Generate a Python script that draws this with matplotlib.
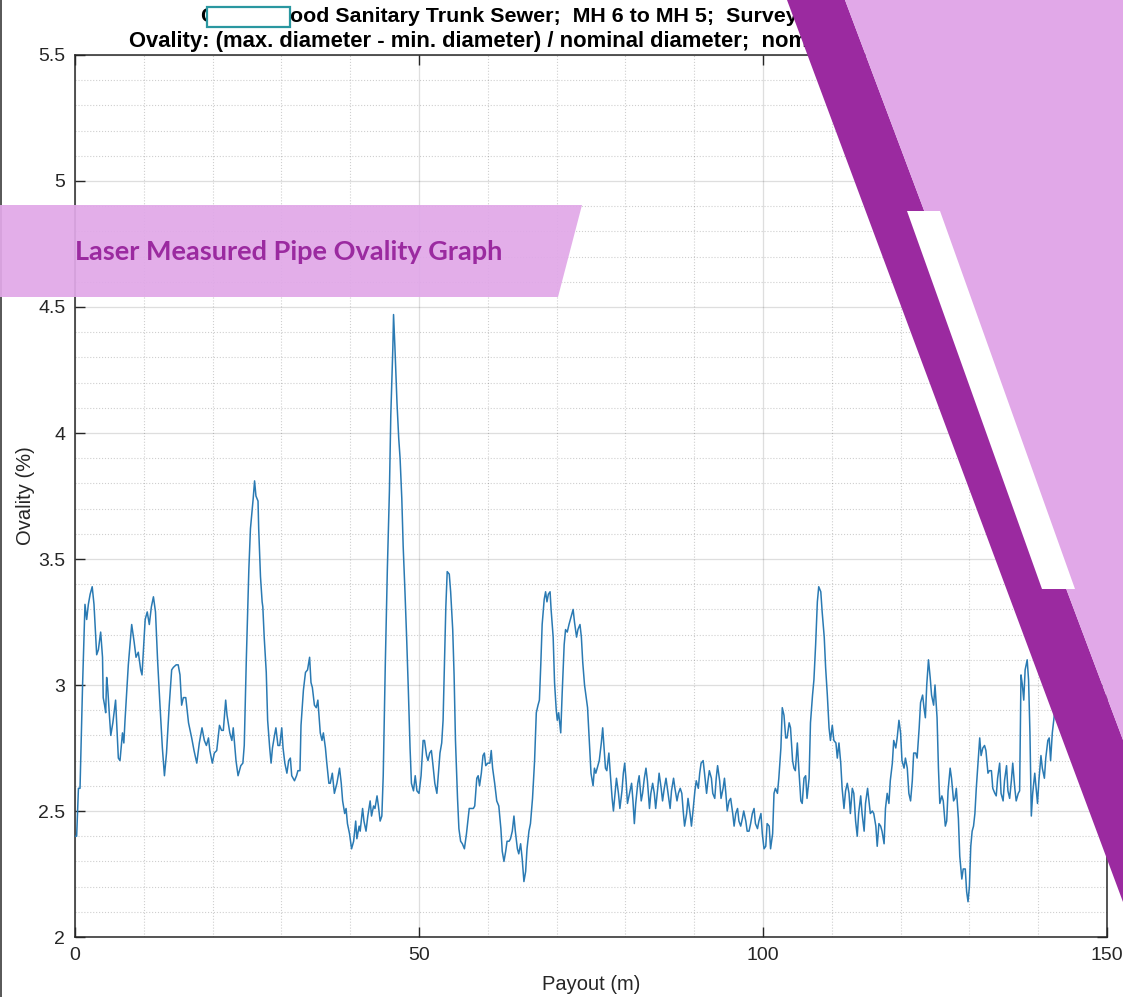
import matplotlib
matplotlib.use("Agg")
import matplotlib.pyplot as plt
from matplotlib.patches import Polygon, Rectangle
from matplotlib.lines import Line2D
from matplotlib.ticker import MultipleLocator

plt.rcParams['font.family'] = ['Liberation Sans', 'DejaVu Sans']

# Ovality survey readings: payout along the pipe (m) and ovality (%)
payout_m = [
    0.0, 0.24, 0.5, 0.73, 1.1, 1.45, 1.7, 1.94, 2.2, 2.5, 2.76, 3.15, 3.4, 3.73, 4.0, 4.1, 4.3, 4.46, 4.6, 4.75,
    5.0, 5.2, 5.5, 5.9, 6.06, 6.3, 6.54, 6.9, 7.1, 7.27, 7.75, 8.24, 8.6, 8.87, 9.2, 9.55, 9.74, 10.2, 10.5, 10.8,
    11.1, 11.4, 11.7, 12.0, 12.35, 12.7, 13.0, 13.3, 13.7, 14.05, 14.3, 14.7, 15.0, 15.26, 15.5, 15.75, 16.1, 16.5,
    16.96, 17.3, 17.7, 18.07, 18.46, 18.8, 19.1, 19.4, 19.6, 19.96, 20.25, 20.6, 21.0, 21.3, 21.56, 21.9, 22.1,
    22.5, 22.8, 23.0, 23.4, 23.7, 24.1, 24.4, 24.6, 24.9, 25.27, 25.5, 25.9, 26.1, 26.3, 26.6, 26.7, 26.96, 27.2,
    27.3, 27.5, 27.8, 28.0, 28.3, 28.5, 28.7, 29.0, 29.2, 29.5, 29.76, 30.05, 30.24, 30.5, 30.8, 31.06, 31.3, 31.5,
    31.9, 32.2, 32.4, 32.7, 32.85, 33.2, 33.5, 33.8, 34.1, 34.3, 34.5, 34.8, 35.07, 35.3, 35.65, 35.9, 36.1, 36.4,
    36.6, 36.9, 37.1, 37.4, 37.7, 38.07, 38.45, 38.7, 38.9, 39.2, 39.4, 39.6, 39.9, 40.2, 40.5, 40.8, 40.97, 41.3,
    41.45, 41.8, 42.0, 42.3, 42.56, 42.9, 43.1, 43.4, 43.6, 43.9, 44.1, 44.35, 44.6, 44.8, 45.1, 45.4, 45.7, 45.9,
    46.2, 46.3, 46.5, 46.8, 47.05, 47.25, 47.5, 47.7, 47.96, 48.2, 48.45, 48.7, 48.9, 49.2, 49.45, 49.7, 50.0,
    50.3, 50.6, 50.8, 51.1, 51.3, 51.55, 51.8, 52.0, 52.3, 52.6, 52.8, 53.05, 53.3, 53.5, 53.7, 53.9, 54.1, 54.4,
    54.6, 54.9, 55.1, 55.3, 55.6, 55.8, 56.05, 56.3, 56.6, 56.9, 57.3, 57.5, 57.9, 58.1, 58.4, 58.6, 58.8, 59.06,
    59.3, 59.5, 59.7, 60.0, 60.3, 60.5, 60.7, 61.0, 61.3, 61.6, 61.9, 62.1, 62.35, 62.6, 62.8, 63.1, 63.3, 63.56,
    63.8, 64.0, 64.3, 64.5, 64.77, 65.0, 65.25, 65.5, 65.7, 65.98, 66.2, 66.5, 66.8, 67.05, 67.3, 67.5, 67.7, 67.9,
    68.2, 68.4, 68.6, 68.8, 69.05, 69.2, 69.5, 69.7, 69.95, 70.1, 70.3, 70.6, 70.8, 71.1, 71.3, 71.55, 71.8, 72.1,
    72.4, 72.6, 72.9, 73.1, 73.4, 73.6, 73.8, 74.06, 74.3, 74.5, 74.8, 75.0, 75.3, 75.5, 75.7, 75.99, 76.2, 76.5,
    76.7, 76.9, 77.1, 77.3, 77.6, 77.8, 78.07, 78.26, 78.5, 78.7, 78.99, 79.2, 79.5, 79.7, 79.9, 80.1, 80.3, 80.6,
    80.9, 81.1, 81.3, 81.5, 81.8, 82.0, 82.3, 82.5, 82.75, 82.99, 83.2, 83.5, 83.7, 83.96, 84.2, 84.4, 84.7, 84.9,
    85.2, 85.4, 85.65, 85.9, 86.2, 86.5, 86.7, 87.0, 87.2, 87.5, 87.7, 87.97, 88.2, 88.4, 88.6, 88.9, 89.1, 89.4,
    89.6, 89.86, 90.1, 90.3, 90.6, 90.8, 91.0, 91.3, 91.5, 91.8, 92.0, 92.2, 92.5, 92.7, 92.99, 93.2, 93.4, 93.7,
    93.9, 94.2, 94.4, 94.6, 94.8, 95.07, 95.3, 95.6, 95.8, 96.04, 96.3, 96.5, 96.76, 97.0, 97.2, 97.5, 97.7, 97.97,
    98.2, 98.45, 98.7, 98.9, 99.2, 99.4, 99.7, 99.9, 100.15, 100.4, 100.6, 100.9, 101.1, 101.4, 101.6, 101.8,
    102.1, 102.3, 102.6, 102.8, 103.05, 103.3, 103.5, 103.8, 104.0, 104.3, 104.5, 104.7, 104.99, 105.2, 105.5,
    105.7, 105.96, 106.2, 106.4, 106.7, 106.9, 107.2, 107.4, 107.65, 107.9, 108.1, 108.4, 108.6, 108.9, 109.1,
    109.35, 109.6, 109.8, 110.07, 110.3, 110.6, 110.8, 111.04, 111.3, 111.5, 111.77, 112.0, 112.25, 112.5, 112.7,
    112.98, 113.2, 113.46, 113.7, 113.9, 114.2, 114.4, 114.7, 114.9, 115.2, 115.4, 115.6, 115.9, 116.1, 116.4,
    116.6, 116.85, 117.1, 117.3, 117.6, 117.8, 118.05, 118.3, 118.5, 118.8, 119.0, 119.3, 119.5, 119.76, 120.0,
    120.2, 120.5, 120.7, 120.97, 121.2, 121.45, 121.7, 121.9, 122.2, 122.4, 122.7, 122.9, 123.2, 123.4, 123.6,
    123.8, 124.05, 124.3, 124.5, 124.8, 125.0, 125.3, 125.5, 125.7, 126.0, 126.2, 126.5, 126.7, 126.9, 127.2,
    127.4, 127.7, 127.9, 128.1, 128.4, 128.6, 128.9, 129.1, 129.4, 129.6, 129.8, 130.0, 130.2, 130.4, 130.6,
    130.8, 131.0, 131.3, 131.5, 131.7, 131.95, 132.2, 132.4, 132.7, 132.9, 133.2, 133.4, 133.7, 133.9, 134.1,
    134.4, 134.6, 134.9, 135.1, 135.4, 135.6, 135.85, 136.1, 136.3, 136.6, 136.8, 137.1, 137.3, 137.5, 137.7,
    137.9, 138.1, 138.4, 138.6, 138.8, 139.0, 139.2, 139.5, 139.7, 139.9, 140.1, 140.4, 140.6, 140.9, 141.1,
    141.4, 141.6, 141.8, 142.05, 142.3, 142.6, 143.0,
]

ovality_pct = [
    2.40, 2.40, 2.59, 2.59, 3.00, 3.32, 3.26, 3.32, 3.36, 3.39, 3.32, 3.12, 3.14, 3.21, 3.11, 2.95, 2.92, 2.89, 3.03, 2.99,
    2.88, 2.80, 2.85, 2.94, 2.85, 2.71, 2.70, 2.81, 2.77, 2.86, 3.08, 3.24, 3.17, 3.11, 3.13, 3.06, 3.04, 3.26, 3.29, 3.24,
    3.31, 3.35, 3.29, 3.10, 2.92, 2.75, 2.64, 2.73, 2.92, 3.06, 3.07, 3.08, 3.08, 3.04, 2.92, 2.95, 2.95, 2.85,
    2.79, 2.74, 2.69, 2.77, 2.83, 2.78, 2.76, 2.79, 2.74, 2.69, 2.73, 2.74, 2.84, 2.82, 2.82, 2.94, 2.88,
    2.81, 2.78, 2.83, 2.70, 2.64, 2.68, 2.69, 2.76, 3.10, 3.46, 3.62, 3.74, 3.81, 3.75, 3.73, 3.62, 3.43, 3.33,
    3.31, 3.19, 3.05, 2.86, 2.75, 2.69, 2.75, 2.80, 2.83, 2.76, 2.76, 2.83, 2.75, 2.69, 2.65, 2.70, 2.71, 2.64,
    2.62, 2.64, 2.66, 2.66, 2.84, 2.98, 3.05, 3.06, 3.11, 3.01, 2.99, 2.92, 2.91, 2.94, 2.81, 2.78, 2.81, 2.75,
    2.69, 2.61, 2.61, 2.65, 2.57, 2.61, 2.67, 2.61, 2.54, 2.49, 2.51, 2.45, 2.41, 2.35, 2.38, 2.46, 2.39, 2.44,
    2.42, 2.51, 2.46, 2.42, 2.48, 2.54, 2.48, 2.52, 2.51, 2.56, 2.52, 2.46, 2.48, 2.64, 3.08, 3.46, 3.77, 4.07,
    4.34, 4.47, 4.34, 4.12, 3.98, 3.90, 3.74, 3.55, 3.37, 3.19, 2.98, 2.75, 2.61, 2.58, 2.64, 2.58, 2.57,
    2.64, 2.78, 2.78, 2.72, 2.70, 2.73, 2.74, 2.69, 2.61, 2.57, 2.64, 2.73, 2.77, 2.86, 3.08, 3.31, 3.45, 3.44,
    3.37, 3.22, 3.04, 2.78, 2.55, 2.43, 2.38, 2.37, 2.35, 2.41, 2.51, 2.51, 2.51, 2.52, 2.63, 2.64, 2.60, 2.65,
    2.72, 2.73, 2.68, 2.69, 2.69, 2.74, 2.67, 2.61, 2.54, 2.52, 2.43, 2.34, 2.30, 2.34, 2.38, 2.38, 2.39, 2.42,
    2.48, 2.42, 2.35, 2.33, 2.37, 2.31, 2.22, 2.26, 2.35, 2.42, 2.45, 2.55, 2.70, 2.89, 2.92, 2.94, 3.08, 3.24,
    3.34, 3.37, 3.33, 3.36, 3.37, 3.30, 3.19, 3.01, 2.90, 2.86, 2.89, 2.81, 2.96, 3.16, 3.22, 3.21, 3.24, 3.27,
    3.30, 3.25, 3.19, 3.22, 3.24, 3.19, 3.09, 3.00, 2.95, 2.91, 2.75, 2.65, 2.60, 2.67, 2.65, 2.68, 2.70, 2.77,
    2.83, 2.75, 2.67, 2.66, 2.73, 2.65, 2.55, 2.50, 2.57, 2.63, 2.57, 2.51, 2.58, 2.65, 2.69, 2.62, 2.53, 2.57,
    2.61, 2.54, 2.45, 2.53, 2.61, 2.64, 2.54, 2.57, 2.63, 2.67, 2.62, 2.51, 2.57, 2.61, 2.57, 2.51, 2.59, 2.65,
    2.59, 2.54, 2.59, 2.63, 2.57, 2.51, 2.58, 2.63, 2.59, 2.54, 2.57, 2.59, 2.57, 2.50, 2.44, 2.49, 2.55, 2.49,
    2.44, 2.51, 2.58, 2.62, 2.59, 2.65, 2.69, 2.70, 2.65, 2.57, 2.62, 2.66, 2.63, 2.57, 2.55, 2.63, 2.68, 2.62,
    2.55, 2.59, 2.63, 2.57, 2.50, 2.54, 2.55, 2.49, 2.44, 2.49, 2.51, 2.46, 2.44, 2.47, 2.50, 2.46, 2.42, 2.42,
    2.45, 2.49, 2.51, 2.45, 2.43, 2.46, 2.49, 2.41, 2.35, 2.36, 2.45, 2.44, 2.35, 2.41, 2.57, 2.59,
    2.57, 2.63, 2.75, 2.91, 2.88, 2.79, 2.79, 2.85, 2.83, 2.70, 2.67, 2.66, 2.77, 2.67, 2.54,
    2.53, 2.63, 2.64, 2.55, 2.63, 2.85, 2.96, 3.02, 3.16, 3.33, 3.39, 3.37, 3.29, 3.19, 3.07,
    2.96, 2.83, 2.78, 2.84, 2.78, 2.77, 2.71, 2.77, 2.69, 2.59, 2.51, 2.58, 2.61, 2.57, 2.49,
    2.59, 2.57, 2.46, 2.40, 2.49, 2.56, 2.49, 2.42, 2.53, 2.59, 2.54, 2.49, 2.50, 2.49, 2.44,
    2.36, 2.45, 2.44, 2.42, 2.37, 2.51, 2.57, 2.53, 2.62, 2.69, 2.78, 2.75, 2.79, 2.86, 2.81,
    2.70, 2.67, 2.71, 2.67, 2.57, 2.54, 2.62, 2.73, 2.73, 2.71, 2.83, 2.93, 2.96, 2.91, 2.87,
    3.00, 3.10, 3.03, 2.96, 2.92, 3.00, 2.87, 2.67, 2.53, 2.56, 2.54, 2.44, 2.46, 2.58, 2.67,
    2.63, 2.54, 2.55, 2.59, 2.47, 2.32, 2.23, 2.27, 2.27, 2.18, 2.14, 2.20, 2.36, 2.42, 2.44,
    2.49, 2.59, 2.71, 2.79, 2.72, 2.75, 2.76, 2.74, 2.65, 2.66, 2.66, 2.59, 2.57, 2.56, 2.63,
    2.69, 2.57, 2.54, 2.62, 2.68, 2.58, 2.55, 2.62, 2.69, 2.59, 2.54, 2.57, 2.58, 3.04, 3.00,
    2.94, 3.06, 3.10, 3.02, 2.81, 2.48, 2.57, 2.65, 2.59, 2.53, 2.62, 2.72, 2.67, 2.63, 2.71,
    2.78, 2.79, 2.70, 2.81, 2.87, 2.95, 3.05,
]

x_ticks = [0, 50, 100, 150]
y_ticks = [2, 2.5, 3, 3.5, 4, 4.5, 5, 5.5]

title_line1 = "Collingwood Sanitary Trunk Sewer;  MH 6 to MH 5;  Survey"
title_line2 = "Ovality: (max. diameter - min. diameter) / nominal diameter;  nominal"
banner_text = "Laser Measured Pipe Ovality Graph"

W, H = 1123, 997
ink = "#262626"
light_purple = "#e1a8e8"
dark_purple = "#9b2aa0"


def px(x, y):
    """Pixel position (from top-left) to figure fraction."""
    return (x / W, 1 - y / H)


fig = plt.figure(figsize=(W / 100, H / 100), dpi=100)
fig.patch.set_facecolor("white")

ax = fig.add_axes([75 / W, 1 - 937 / H, (1107 - 75) / W, (937 - 55) / H])
ax.plot(payout_m, ovality_pct, color="#2a7ab3", lw=1.1, zorder=3)

ax.set_xlim(0, 150)
ax.set_ylim(2, 5.5)
ax.set_xticks(x_ticks)
ax.set_yticks(y_ticks)
ax.set_xticklabels([f"{t:g}" for t in x_ticks])
ax.set_yticklabels([f"{t:g}" for t in y_ticks])
ax.xaxis.set_minor_locator(MultipleLocator(10))
ax.yaxis.set_minor_locator(MultipleLocator(0.1))

ax.grid(True, which="major", color=ink, alpha=0.15, lw=0.9, ls="-")
ax.grid(True, which="minor", color=ink, alpha=0.22, lw=0.8, ls=":")
ax.set_axisbelow(True)

ax.tick_params(which="major", direction="in", length=7, width=1.0, colors=ink,
               labelsize=14, top=True, right=True, pad=7)
ax.tick_params(which="minor", length=0, top=True, right=True)
for s in ax.spines.values():
    s.set_color(ink)
    s.set_linewidth(1.1)

ax.set_xlabel("Payout (m)", fontsize=14.5, color=ink)
ax.set_ylabel("Ovality (%)", fontsize=14.5, color=ink)
ax.xaxis.set_label_coords(0.5, -0.043)
ax.yaxis.set_label_coords(-0.039, 0.5)

# two-line title
fig.text(*px(201, 17), title_line1, ha="left", va="center", fontsize=15.4,
         fontweight="bold", color="black", zorder=3)
fig.text(*px(129, 42), title_line2, ha="left", va="center", fontsize=15.8,
         fontweight="bold", color="black", zorder=3)

# redaction box over part of the site name
fig.add_artist(Rectangle(px(207, 27), 83 / W, 20 / H, transform=fig.transFigure,
                         facecolor="white", edgecolor="#2a97a0", lw=1.6, zorder=4))

# thin frame line on the left edge of the figure
fig.add_artist(Line2D([0.6 / W, 0.6 / W], [0, 1], transform=fig.transFigure,
                      color="#3a3a3a", lw=1.2, zorder=4))

# header banner
fig.add_artist(Polygon([px(0, 205), px(582, 205), px(558, 297), px(0, 297)],
                       closed=True, transform=fig.transFigure, facecolor=light_purple,
                       edgecolor="none", alpha=0.93, zorder=5))
fig.text(*px(75, 252), banner_text, ha="left", va="center", fontsize=19.5,
         fontweight="bold", color=dark_purple, family=["Lato", "DejaVu Sans"], zorder=6)

# decorative diagonal bands on the right
fig.add_artist(Polygon([px(787, 0), px(845, 0), px(1123, 740), px(1123, 902)],
                       closed=True, transform=fig.transFigure, facecolor=dark_purple,
                       edgecolor="none", zorder=10))
fig.add_artist(Polygon([px(845, 0), px(W, 0), px(W, 740)],
                       closed=True, transform=fig.transFigure, facecolor=light_purple,
                       edgecolor="none", zorder=10))
fig.add_artist(Polygon([px(907, 211), px(940, 211), px(1075, 589), px(1042, 589)],
                       closed=True, transform=fig.transFigure, facecolor="white",
                       edgecolor="none", zorder=11))

fig.savefig("out.png", dpi=100)
